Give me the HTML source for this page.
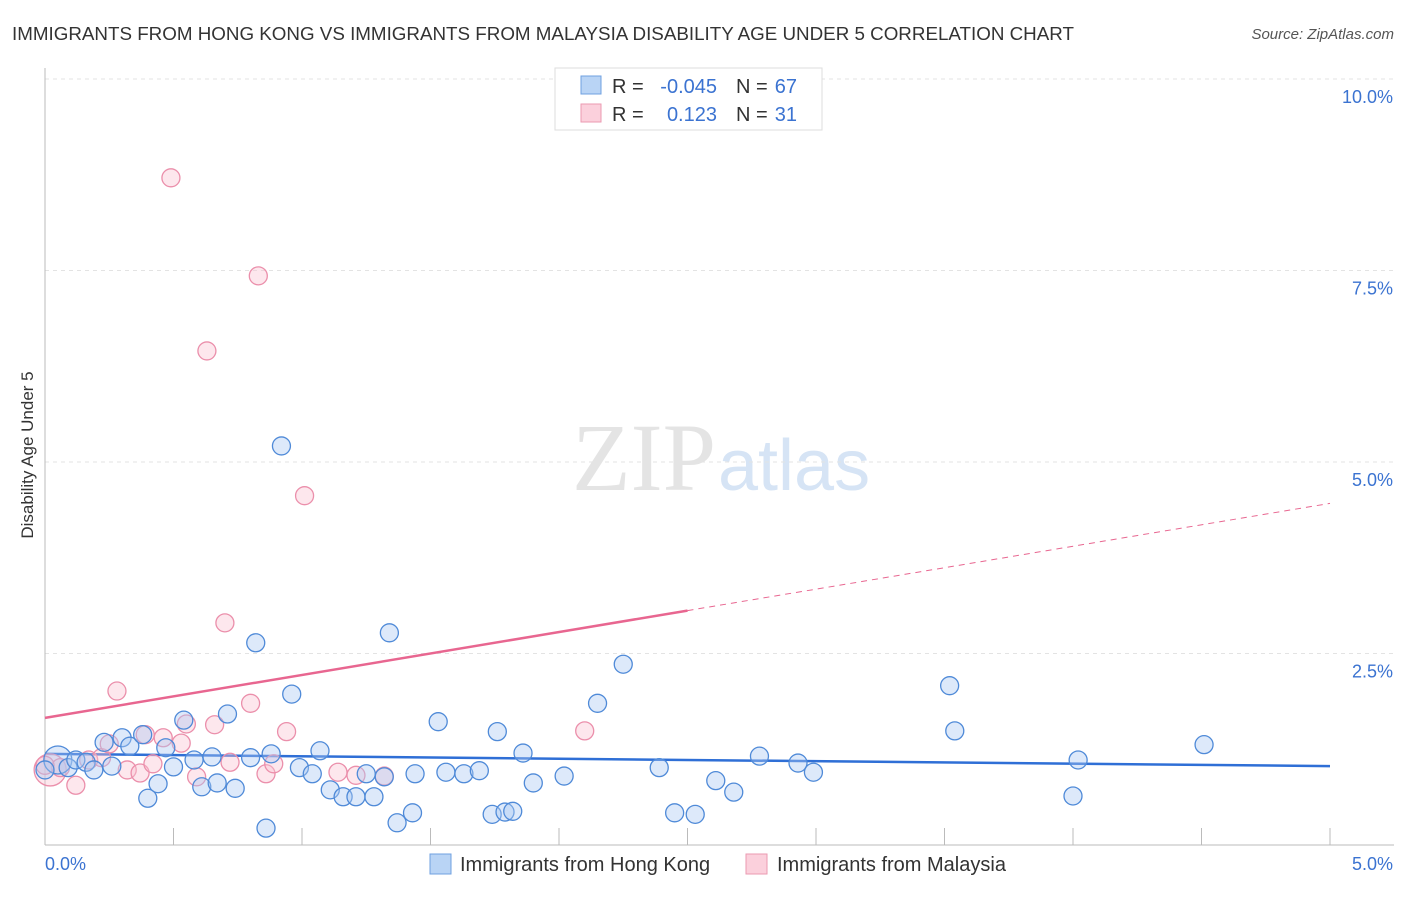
<!DOCTYPE html>
<html><head><meta charset="utf-8"><style>
body{margin:0;background:#fff;font-family:"Liberation Sans",sans-serif;}
svg text{font-family:"Liberation Sans",sans-serif;}
</style></head><body>
<svg id="chart" width="1406" height="892">
<text x="12" y="40" font-size="18.8" fill="#333">IMMIGRANTS FROM HONG KONG VS IMMIGRANTS FROM MALAYSIA DISABILITY AGE UNDER 5 CORRELATION CHART</text>
<text x="1394" y="39" font-size="15" fill="#555" font-style="italic" text-anchor="end">Source: ZipAtlas.com</text>
<text x="716" y="490" font-size="96" fill="#e4e4e4" text-anchor="end" style="font-family:'Liberation Serif',serif">ZIP</text>
<text x="718" y="490" font-size="72" fill="#d6e4f5">atlas</text>
<g id="grid"></g><g id="axes"></g><g id="trend"></g><g id="pts"></g>
<text x="33" y="455" font-size="17" fill="#333" transform="rotate(-90 33 455)" text-anchor="middle">Disability Age Under 5</text>
<g>
<rect x="555" y="68" width="267" height="62" fill="#fff" stroke="#ddd"/>
<rect x="581" y="76" width="20" height="18" fill="#b9d4f5" stroke="#6fa0e0"/>
<rect x="581" y="104" width="20" height="18" fill="#fbd0dc" stroke="#eb9ab1"/>
<text x="612" y="93" font-size="20" fill="#333">R =</text>
<text x="717" y="93" font-size="20" fill="#3b73d1" text-anchor="end">-0.045</text>
<text x="736" y="93" font-size="20" fill="#333">N =</text>
<text x="797" y="93" font-size="20" fill="#3b73d1" text-anchor="end">67</text>
<text x="612" y="121" font-size="20" fill="#333">R =</text>
<text x="717" y="121" font-size="20" fill="#3b73d1" text-anchor="end">0.123</text>
<text x="736" y="121" font-size="20" fill="#333">N =</text>
<text x="797" y="121" font-size="20" fill="#3b73d1" text-anchor="end">31</text>
</g>
<g>
<rect x="430" y="854" width="21" height="20" fill="#b9d4f5" stroke="#6fa0e0"/>
<text x="460" y="871" font-size="20" fill="#333">Immigrants from Hong Kong</text>
<rect x="746" y="854" width="21" height="20" fill="#fbd0dc" stroke="#eb9ab1"/>
<text x="777" y="871" font-size="20" fill="#333">Immigrants from Malaysia</text>
</g>
</svg>
<script>
const blueX=[0.05,0.09,0.12,0.16,0.19,0.23,0.26,0.30,0.33,0.38,0.40,0.44,0.47,0.50,0.54,0.58,0.61,0.65,0.67,0.71,0.74,0.80,0.82,0.86,0.88,0.92,0.96,0.99,1.04,1.07,1.11,1.16,1.21,1.25,1.28,1.32,1.34,1.37,1.43,1.44,1.53,1.56,1.63,1.69,1.74,1.76,1.79,1.82,1.86,1.90,2.02,2.15,2.25,2.39,2.45,2.53,2.61,2.68,2.78,2.93,2.99,3.52,3.54,4.00,4.02,4.51,0.00];
const blueY=[1.11,1.01,1.11,1.08,0.98,1.34,1.03,1.40,1.29,1.44,0.61,0.80,1.27,1.02,1.63,1.11,0.76,1.15,0.81,1.71,0.74,1.14,2.64,0.22,1.19,5.21,1.97,1.01,0.93,1.23,0.72,0.63,0.63,0.93,0.63,0.89,2.77,0.29,0.42,0.93,1.61,0.95,0.93,0.97,0.40,1.48,0.43,0.44,1.20,0.81,0.90,1.85,2.36,1.01,0.42,0.40,0.84,0.69,1.16,1.07,0.95,2.08,1.49,0.64,1.11,1.31,0.98];
const pinkX=[0.02,0.06,0.12,0.17,0.22,0.25,0.28,0.32,0.37,0.39,0.42,0.46,0.49,0.53,0.55,0.59,0.63,0.66,0.70,0.72,0.80,0.83,0.86,0.89,0.94,1.01,1.14,1.21,1.32,2.10,0.00];
const pinkY=[0.98,1.01,0.78,1.11,1.14,1.32,2.01,0.98,0.94,1.44,1.06,1.40,8.71,1.33,1.58,0.89,6.45,1.57,2.90,1.08,1.85,7.43,0.93,1.06,1.48,4.56,0.95,0.91,0.90,1.49,1.04];
const yTicks=[2.5,5.0,7.5,10.0];
const yTickLabels=["2.5%","5.0%","7.5%","10.0%"];
const blueTrend=[1.19,1.03];
const pinkTrend=[1.66,4.46];
const NS="http://www.w3.org/2000/svg";
const X=v=>45+v*257,Y=v=>845-v*76.6;
function mk(p,t,a){const e=document.createElementNS(NS,t);for(const k in a)e.setAttribute(k,a[k]);document.getElementById(p).appendChild(e);return e;}
yTicks.forEach((t,i)=>{
 const g=mk('grid','line',{x1:45,x2:1394,y1:Y(t),y2:Y(t),stroke:'#e3e3e3','stroke-dasharray':'4 4'});
 
 
 const l=mk('grid','text',{x:1393,y:Y(t)+24,'font-size':18,fill:'#3b73d1','text-anchor':'end'});l.textContent=yTickLabels[i];
 
 
});
let a=mk('axes','line',{x1:45,x2:45,y1:68,y2:845,stroke:'#bbb'});


a=mk('axes','line',{x1:45,x2:1394,y1:845,y2:845,stroke:'#bbb'});


for(let i=1;i<=10;i++){const t=mk('axes','line',{x1:X(i*0.5),x2:X(i*0.5),y1:828,y2:845,stroke:'#bbb'});
 
 }
let t=mk('axes','text',{x:45,y:870,'font-size':18,fill:'#3b73d1'});t.textContent='0.0%';


t=mk('axes','text',{x:1393,y:870,'font-size':18,fill:'#3b73d1','text-anchor':'end'});t.textContent='5.0%';


function pts(xs,ys,fill,stroke,name){xs.forEach((x,i)=>{const r=(i==0)?(name=='hk-point'?14:16):9;
 const c=mk('pts','circle',{cx:X(x),cy:Y(ys[i]),r:r,fill:fill,'fill-opacity':0.4,stroke:stroke,'stroke-width':1.3});
 
 });}
pts(pinkX,pinkY,'#f9c3d3','#eb8fab','malaysia-point');
pts(blueX,blueY,'#a9c9f2','#4f8ad8','hk-point');
let l=mk('trend','line',{x1:X(0),x2:X(5),y1:Y(blueTrend[0]),y2:Y(blueTrend[1]),stroke:'#2f6fd6','stroke-width':2.5});


const pm=(pinkTrend[0]+pinkTrend[1])/2;
l=mk('trend','line',{x1:X(0),x2:X(2.5),y1:Y(pinkTrend[0]),y2:Y(pm),stroke:'#e86690','stroke-width':2.5});


l=mk('trend','line',{x1:X(2.5),x2:X(5),y1:Y(pm),y2:Y(pinkTrend[1]),stroke:'#e86690','stroke-width':1,'stroke-dasharray':'6 5'});


</script>
</body></html>
